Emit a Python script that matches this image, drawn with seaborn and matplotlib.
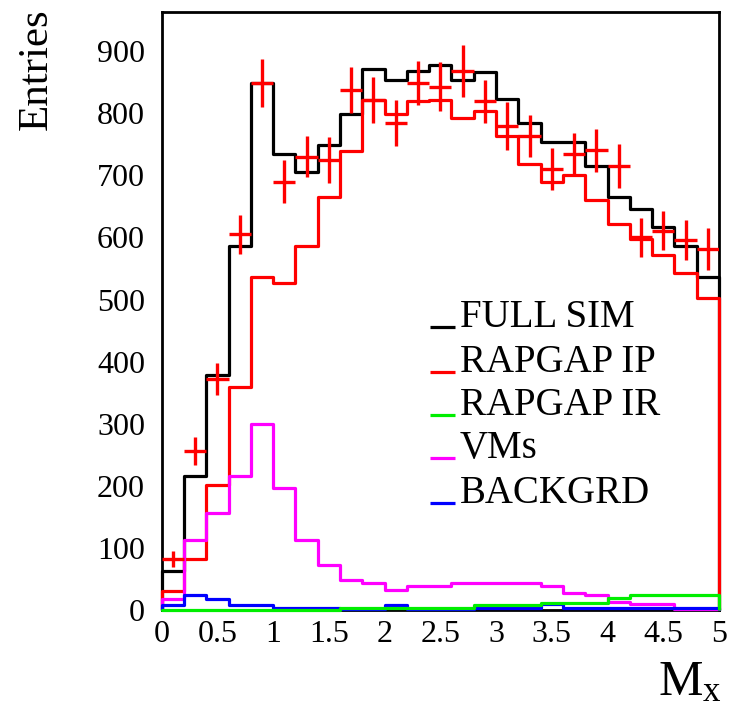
import numpy as np
import pandas as pd
import matplotlib
matplotlib.use("Agg")
import matplotlib.pyplot as plt
import seaborn as sns

# ---------------- data ----------------
mx_edges = [0.0, 0.2, 0.4, 0.6, 0.8, 1.0, 1.2, 1.4, 1.6, 1.8, 2.0, 2.2, 2.4,
            2.6, 2.8, 3.0, 3.2, 3.4, 3.6, 3.8, 4.0, 4.2, 4.4, 4.6, 4.8, 5.0]
mx_centers = [0.1, 0.3, 0.5, 0.7, 0.9, 1.1, 1.3, 1.5, 1.7, 1.9, 2.1, 2.3, 2.5,
              2.7, 2.9, 3.1, 3.3, 3.5, 3.7, 3.9, 4.1, 4.3, 4.5, 4.7, 4.9]

full_sim = [63, 216, 378, 586, 849, 734, 705, 749, 798, 872, 853, 868, 878,
            853, 867, 823, 784, 753, 753, 715, 665, 646, 616, 586, 536]
rapgap_ip = [30, 82, 201, 359, 536, 526, 586, 665, 739, 822, 798, 819, 822,
             793, 804, 763, 719, 690, 700, 660, 621, 597, 572, 542, 502]
rapgap_ir = [0, 0, 0, 0, 0, 0, 0, 0, 4, 4, 4, 4, 4,
             4, 8, 8, 8, 12, 12, 12, 19, 24, 24, 24, 24]
vms = [17, 113, 157, 216, 299, 196, 113, 72, 48, 43, 33, 39, 39,
       43, 43, 43, 43, 39, 28, 24, 13, 9, 9, 1, 1]
backgrd = [8, 24, 18, 8, 8, 3, 3, 3, 2, 2, 8, 1, 1,
           1, 3, 3, 3, 9, 3, 3, 3, 3, 3, 3, 3]

data_y = [82, 256, 372, 605, 849, 690, 730, 725, 837, 822, 784, 849, 843,
          868, 819, 779, 763, 710, 735, 740, 715, 600, 611, 596, 581]
data_err = [13, 22, 25, 31, 39, 34, 33, 37, 37, 37, 37, 35, 40,
            42, 34, 39, 34, 34, 33, 34, 35, 32, 32, 32, 34]

series_names = ["FULL SIM", "RAPGAP IP", "RAPGAP IR", "VMs", "BACKGRD"]
series_vals = [full_sim, rapgap_ip, rapgap_ir, vms, backgrd]
series_colors = ["#000000", "#ff0000", "#00ee00", "#ff00ff", "#0000ff"]

x_tick_vals = [0, 0.5, 1, 1.5, 2, 2.5, 3, 3.5, 4, 4.5, 5]
x_tick_labels = ["0", "0.5", "1", "1.5", "2", "2.5", "3", "3.5", "4", "4.5", "5"]
y_tick_vals = [0, 100, 200, 300, 400, 500, 600, 700, 800, 900]

# ---------------- style ----------------
sns.set_style("white")
plt.rcParams["font.family"] = ["Liberation Serif", "DejaVu Serif"]
plt.rcParams["mathtext.fontset"] = "custom"
plt.rcParams["mathtext.rm"] = "Liberation Serif"
plt.rcParams["mathtext.it"] = "Liberation Serif"

fig = plt.figure(figsize=(7.39, 7.07), dpi=100)
ax = fig.add_axes([161.7 / 739, 1 - 610 / 707, (719 - 161.7) / 739, (610 - 12) / 707])

frames = []
for name, vals in zip(series_names, series_vals):
    frames.append(pd.DataFrame({"Mx": mx_centers, "w": vals, "sample": name}))
df = pd.concat(frames, ignore_index=True)

z = {"FULL SIM": 2, "RAPGAP IP": 3, "VMs": 4, "BACKGRD": 5, "RAPGAP IR": 6}
for name, col, vals in zip(series_names, series_colors, series_vals):
    sub = df[df["sample"] == name]
    n_before = len(ax.lines)
    sns.histplot(data=sub, x="Mx", weights="w", bins=mx_edges, element="step",
                 fill=False, color=col, linewidth=2.3, ax=ax, zorder=z[name])
    # ROOT-style outline: drop to zero at both ends
    ax.vlines([mx_edges[0], mx_edges[-1]], 0, [vals[0], vals[-1]], colors=col,
              linewidth=2.3, zorder=z[name], clip_on=False)
    for ln in ax.lines[n_before:]:
        ln.set_clip_on(False)

ax.errorbar(mx_centers, data_y, yerr=data_err, xerr=0.1, fmt="none",
            ecolor="#ff0000", elinewidth=2.4, capsize=0, zorder=8)

ax.set_xlim(0, 5)
ax.set_ylim(0, 963)
ax.set_xlabel("")
ax.set_ylabel("")

ax.set_xticks(x_tick_vals)
ax.set_xticklabels(x_tick_labels)
ax.set_xticks(np.arange(0, 5.01, 0.1), minor=True)
ax.set_yticks(y_tick_vals)
ax.set_yticklabels([str(v) for v in y_tick_vals])
ax.set_yticks(np.arange(0, 961, 20), minor=True)

ax.tick_params(axis="both", which="both", direction="in", top=False, right=False,
               width=2.0, colors="black", labelsize=23)
ax.tick_params(axis="x", which="major", length=8.5, pad=7)
ax.tick_params(axis="x", which="minor", length=3.8)
ax.tick_params(axis="y", which="major", length=12, pad=12)
ax.tick_params(axis="y", which="minor", length=5.8)

for sp in ax.spines.values():
    sp.set_visible(True)
    sp.set_color("black")
    sp.set_linewidth(2.0)
    sp.set_zorder(1)

# axis titles
fig.text(37 / 739, 1 - 8 / 707, "Entries", rotation=90, ha="center", va="top",
         fontsize=31, color="black")
fig.text(722 / 739, 1 - 660 / 707, r"$\mathregular{M_x}$", ha="right", va="top",
         fontsize=36, color="black")

# legend (ROOT style: short line at text baseline)
leg_baselines = [327, 371.5, 415, 458, 503]
for name, col, yb in zip(series_names, series_colors, leg_baselines):
    yax = (610 - yb) / (610 - 12)
    ax.plot([(430 - 161.7) / (719 - 161.7), (455 - 161.7) / (719 - 161.7)],
            [yax, yax], color=col, lw=2.3, transform=ax.transAxes, zorder=9,
            solid_capstyle="butt")
    ax.text((460 - 161.7) / (719 - 161.7), yax, name, transform=ax.transAxes,
            ha="left", va="baseline", fontsize=28, color="black", zorder=9)

fig.savefig("out.png", dpi=100)
